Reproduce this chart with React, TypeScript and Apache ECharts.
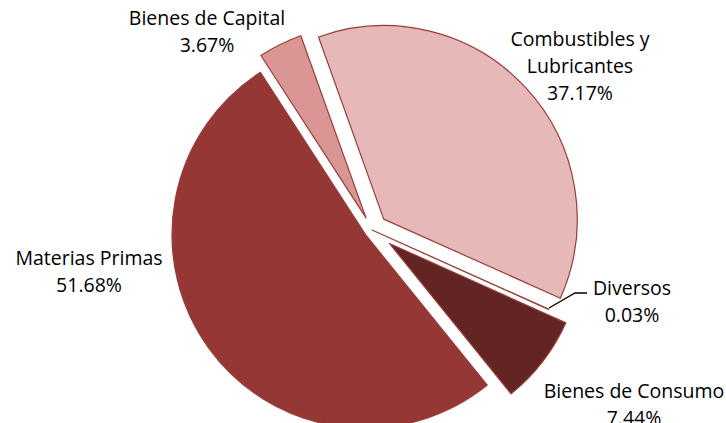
import React, { useEffect, useRef } from "react";
import * as echarts from "echarts";

// Data
const categories = [
  "Combustibles y Lubricantes",
  "Diversos",
  "Bienes de Consumo",
  "Materias Primas",
  "Bienes de Capital",
];
const shares = [37.17, 0.03, 7.44, 51.68, 3.67];

// Styles (keyed by category)
const sliceStyle: Record<string, { color: string; offset: number; label: [number, number]; line?: number[][] }> = {
  "Combustibles y Lubricantes": { color: "#E6B9B8", offset: 16, label: [580, 65] },
  Diversos: { color: "#953735", offset: 0, label: [632, 301], line: [[549, 308], [575, 293], [587, 293]] },
  "Bienes de Consumo": { color: "#632523", offset: 22, label: [634, 404] },
  "Materias Primas": { color: "#953735", offset: 8, label: [89, 271] },
  "Bienes de Capital": { color: "#D99694", offset: 13.5, label: [207, 31] },
};

const BORDER = "#983C3A";
const CENTER = [372, 230];
const RADIUS = 193.5;
const START = 109.7;

export default function App() {
  const ref = useRef<HTMLDivElement>(null);

  useEffect(() => {
    if (!ref.current) return;
    const chart = echarts.init(ref.current, undefined, { renderer: "svg" });

    // One series per slice so every slice can have its own explosion offset
    const sliceSeries = categories.map((target, si) => {
      const st = sliceStyle[target];
      return {
        type: "pie",
        center: CENTER,
        radius: RADIUS,
        startAngle: START,
        clockwise: true,
        avoidLabelOverlap: false,
        selectedMode: "multiple",
        selectedOffset: st.offset,
        emphasis: { disabled: true },
        silent: true,
        z: 2,
        label: { show: false },
        labelLine: { show: false },
        data: categories.map((name, i) => {
          const visible = i === si;
          const itemStyle = visible
            ? { color: sliceStyle[name].color, borderColor: BORDER, borderWidth: 1.2 }
            : { color: "transparent", borderColor: "transparent", borderWidth: 0 };
          return {
            name,
            value: shares[i],
            selected: visible && st.offset > 0,
            itemStyle,
            select: { itemStyle },
          };
        }),
      };
    });

    // Label-only series (not exploded)
    const labelSeries = {
      type: "pie",
      center: CENTER,
      radius: RADIUS,
      startAngle: START,
      clockwise: true,
      avoidLabelOverlap: false,
      emphasis: { disabled: true },
      silent: true,
      z: 3,
      itemStyle: { color: "transparent", borderWidth: 0 },
      data: categories.map((name, i) => ({
        name,
        value: shares[i],
        labelLine: {
          show: !!sliceStyle[name].line,
          lineStyle: { color: "#000", width: 1.3 },
        },
      })),
      label: {
        show: true,
        position: "outside",
        fontFamily: "Open Sans",
        fontSize: 19.5,
        lineHeight: 27,
        color: "#000",
        align: "center",
        formatter: (p: any) =>
          String(p.name).replace(" y ", " y\n") + "\n" + Number(p.value).toFixed(2) + "%",
      },
      labelLine: { show: false },
      labelLayout: (params: any) => {
        const st = sliceStyle[categories[params.dataIndex]];
        const res: any = {
          x: st.label[0],
          y: st.label[1],
          align: "center",
          verticalAlign: "middle",
        };
        if (st.line) res.labelLinePoints = st.line;
        return res;
      },
    };

    chart.setOption({
      animation: false,
      backgroundColor: "#ffffff",
      series: [...sliceSeries, labelSeries],
    } as any);

    return () => chart.dispose();
  }, []);

  return (
    <div
      ref={ref}
      style={{ position: "absolute", left: 0, top: 0, width: 726, height: 423, background: "#fff" }}
    />
  );
}
